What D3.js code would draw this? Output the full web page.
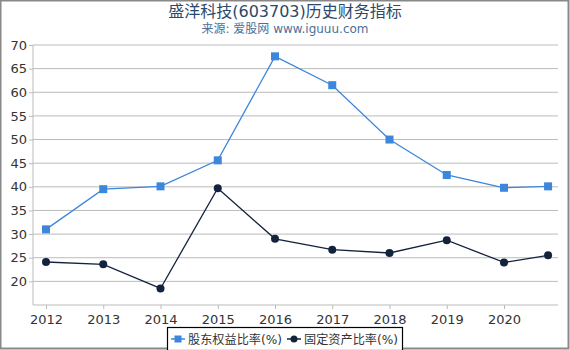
<!DOCTYPE html>
<html lang="zh">
<head>
<meta charset="utf-8">
<title>盛洋科技(603703)历史财务指标</title>
<script src="https://cdn.jsdelivr.net/npm/d3@7"></script>
<style>
  body { margin: 0; background: #fff; }
  text { font-family: "DejaVu Sans", "Noto Sans CJK SC", sans-serif; }
</style>
</head>
<body>
<script>
// years on a continuous axis; the last point is a partial year
var years = [2012, 2013, 2014, 2015, 2016, 2017, 2018, 2019, 2020, 2020.77];
var equityRatio = [31.0, 39.5, 40.1, 45.6, 67.6, 61.5, 50.0, 42.5, 39.8, 40.1];
var fixedAssetRatio = [24.1, 23.6, 18.5, 39.7, 29.0, 26.7, 26.0, 28.7, 24.0, 25.5];
var xTicks = [2012, 2013, 2014, 2015, 2016, 2017, 2018, 2019, 2020];
var yTicks = [20, 25, 30, 35, 40, 45, 50, 55, 60, 65, 70];
var seriesNames = ["股东权益比率(%)", "固定资产比率(%)"];

var width = 570, height = 350;
var svg = d3.select("body").append("svg")
    .attr("width", width)
    .attr("height", height);

// outer frame
svg.append("rect")
    .attr("x", 0.5).attr("y", 0.5)
    .attr("width", width - 2).attr("height", height - 2)
    .attr("fill", "white")
    .attr("stroke", "#888").attr("stroke-width", 2);

svg.append("text")
    .attr("x", width / 2).attr("y", 17)
    .attr("text-anchor", "middle")
    .attr("fill", "#2b4a6b")
    .style("font-size", "16px")
    .text("盛洋科技(603703)历史财务指标");

svg.append("text")
    .attr("x", width / 2).attr("y", 33)
    .attr("text-anchor", "middle")
    .attr("fill", "#4d6f99")
    .style("font-size", "12px")
    .text("来源: 爱股网 www.iguuu.com");

var x = d3.scaleLinear().domain([2012, 2020]).range([46, 504]);
var y = d3.scaleLinear().domain([15, 70]).range([305, 45]);
var left = 33, right = 558;

// grid
svg.append("g").selectAll("line")
    .data(yTicks)
    .join("line")
    .attr("x1", left).attr("x2", right)
    .attr("y1", function(d){ return y(d); })
    .attr("y2", function(d){ return y(d); })
    .attr("stroke", "#bbb").attr("stroke-width", 1);

// y axis
var yAxis = svg.append("g")
    .attr("transform", "translate(" + left + ",0)")
    .call(d3.axisLeft(y).tickValues(yTicks).tickSize(4).tickSizeOuter(0));
yAxis.select(".domain").attr("stroke", "#bbb").attr("d", "M0," + y(70) + "V" + 305);
yAxis.selectAll(".tick line").attr("stroke", "#bbb");
yAxis.selectAll(".tick text")
    .attr("fill", "#333")
    .style("font-size", "13px")
    .attr("x", -6);

// x axis
var xAxis = svg.append("g")
    .attr("transform", "translate(0,305)")
    .call(d3.axisBottom(x).tickValues(xTicks).tickFormat(d3.format("d")).tickSize(4).tickSizeOuter(0));
xAxis.select(".domain").attr("stroke", "#bbb").attr("d", "M" + left + ",0H" + right);
xAxis.selectAll(".tick line").attr("stroke", "#bbb");
xAxis.selectAll(".tick text")
    .attr("fill", "#333")
    .style("font-size", "13px")
    .attr("dy", "0.9em");

var blue = "#3c86dc", dark = "#14233d";

function drawSeries(values, colour, shape) {
    var pts = years.map(function(d, i){ return [x(d), y(values[i])]; });
    svg.append("path")
        .attr("d", d3.line()(pts))
        .attr("fill", "none")
        .attr("stroke", colour)
        .attr("stroke-width", 1.3);
    var g = svg.append("g");
    if (shape == "square") {
        g.selectAll("rect").data(pts).join("rect")
            .attr("x", function(d){ return d[0] - 4; })
            .attr("y", function(d){ return d[1] - 4; })
            .attr("width", 8).attr("height", 8)
            .attr("fill", colour);
    } else {
        g.selectAll("circle").data(pts).join("circle")
            .attr("cx", function(d){ return d[0]; })
            .attr("cy", function(d){ return d[1]; })
            .attr("r", 4)
            .attr("fill", colour);
    }
}

drawSeries(equityRatio, blue, "square");
drawSeries(fixedAssetRatio, dark, "circle");

// legend
var legend = svg.append("g");
legend.append("rect")
    .attr("x", 167.5).attr("y", 327.5)
    .attr("width", 235).attr("height", 23)
    .attr("fill", "white")
    .attr("stroke", "#000").attr("stroke-width", 1.2);

var items = [
    {name: seriesNames[0], colour: blue, shape: "square", x: 171},
    {name: seriesNames[1], colour: dark, shape: "circle", x: 287}
];
items.forEach(function(it){
    legend.append("line")
        .attr("x1", it.x).attr("x2", it.x + 14)
        .attr("y1", 339).attr("y2", 339)
        .attr("stroke", it.colour).attr("stroke-width", 1.5);
    if (it.shape == "square") {
        legend.append("rect")
            .attr("x", it.x + 3.5).attr("y", 335.5)
            .attr("width", 7).attr("height", 7)
            .attr("fill", it.colour);
    } else {
        legend.append("circle")
            .attr("cx", it.x + 7).attr("cy", 339).attr("r", 3.5)
            .attr("fill", it.colour);
    }
    legend.append("text")
        .attr("x", it.x + 17).attr("y", 343.5)
        .attr("fill", "#333")
        .style("font-size", "12px")
        .attr("textLength", 94)
        .attr("lengthAdjust", "spacingAndGlyphs")
        .text(it.name);
});
</script>
</body>
</html>
